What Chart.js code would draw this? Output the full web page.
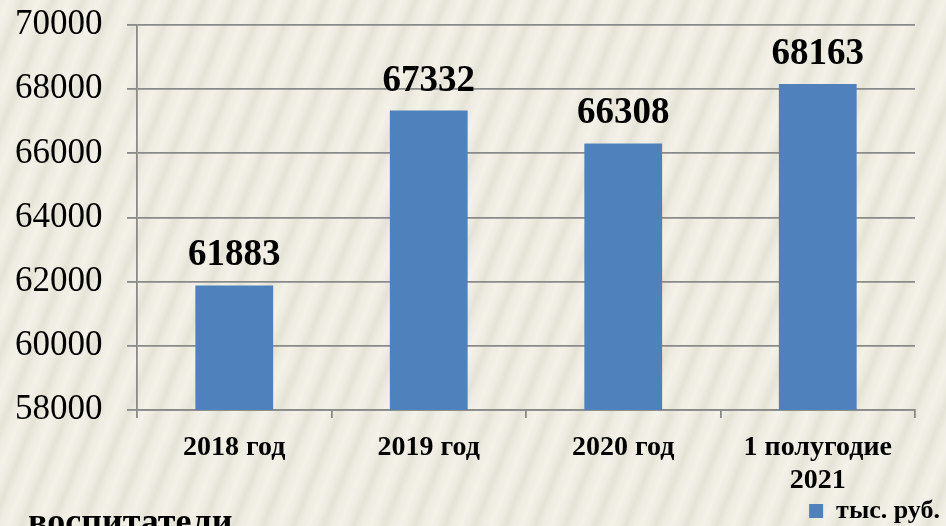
<!DOCTYPE html>
<html>
<head>
<meta charset="utf-8">
<script src="https://cdn.jsdelivr.net/npm/chart.js@4/dist/chart.umd.min.js"></script>
<style>
  html, body {
    margin: 0;
    padding: 0;
    width: 946px;
    height: 526px;
    overflow: hidden;
  }
  body {
    position: relative;
    background-color: #efede2;
    background-image: repeating-linear-gradient(112deg,
      #efede2 0px, #f3f1e8 8px, #efede2 14px, #e5e2d6 21px, #efede2 28px);
  }
  .wrap {
    position: absolute;
    left: 0;
    top: 0;
    width: 946px;
    height: 526px;
  }
  .cut-text {
    position: absolute;
    left: 28px;
    top: 503px;
    font: bold 36px "Liberation Serif", "Times New Roman", serif;
    line-height: 36px;
    color: #000;
  }
</style>
</head>
<body>
<div class="wrap"><canvas id="myChart" width="946" height="526"></canvas></div>
<div class="cut-text">воспитатели</div>
<script>
const categories = ["2018 год", "2019 год", "2020 год", ["1 полугодие", "2021"]];
const values = [61883, 67332, 66308, 68163];
const seriesName = "тыс. руб.";
const yTicks = [58000, 60000, 62000, 64000, 66000, 68000, 70000];

const serif = '"Liberation Serif", "Times New Roman", serif';
const gridColor = "#8a8a8a";

// draws the value above each bar
const valueLabels = {
  id: "valueLabels",
  afterDatasetsDraw(chart) {
    const ctx = chart.ctx;
    const meta = chart.getDatasetMeta(0);
    ctx.save();
    ctx.font = "bold 37px " + serif;
    ctx.fillStyle = "#000";
    ctx.textAlign = "center";
    ctx.textBaseline = "alphabetic";
    meta.data.forEach((bar, i) => {
      ctx.fillText(String(values[i]), bar.x, bar.y - 20);
    });
    ctx.restore();
  },
};

// legend sits further right and lower than the plot area
const legendShift = {
  id: "legendShift",
  afterLayout(chart) {
    if (chart.legend) {
      chart.legend.left += 27;
      chart.legend.right += 27;
      chart.legend.top += 8;
      chart.legend.bottom += 8;
    }
  },
};

const ctx = document.getElementById("myChart").getContext("2d");

new Chart(ctx, {
  type: "bar",
  data: {
    labels: categories,
    datasets: [
      {
        label: seriesName,
        data: values,
        backgroundColor: "#4f81bd",
        borderWidth: 0,
        barPercentage: 0.4,
        categoryPercentage: 1,
      },
    ],
  },
  options: {
    responsive: false,
    animation: false,
    devicePixelRatio: 1,
    layout: {
      padding: { top: 2, right: 31, bottom: 0, left: 15 },
    },
    plugins: {
      tooltip: { enabled: false },
      legend: {
        position: "bottom",
        align: "end",
        labels: {
          boxWidth: 14,
          boxHeight: 14,
          padding: 2,
          color: "#000",
          font: { family: serif, size: 26, weight: "bold" },
        },
      },
    },
    scales: {
      x: {
        offset: true,
        grid: {
          offset: true,
          drawOnChartArea: false,
          drawTicks: true,
          tickLength: 8,
          color: gridColor,
          lineWidth: 1.8,
        },
        border: { color: gridColor, width: 1.8 },
        ticks: {
          color: "#000",
          padding: 14,
          maxRotation: 0,
          font: { family: serif, size: 28, weight: "bold", lineHeight: 1.15 },
        },
        afterFit(scale) {
          scale.height = 78;
        },
      },
      y: {
        min: yTicks[0],
        max: yTicks[yTicks.length - 1],
        afterBuildTicks(scale) {
          scale.ticks = yTicks.map((v) => ({ value: v }));
        },
        grid: {
          color: gridColor,
          lineWidth: 1.8,
          drawTicks: true,
          tickLength: 10,
        },
        border: { color: gridColor, width: 1.8 },
        ticks: {
          color: "#000",
          padding: 4,
          crossAlign: "far",
          font: { family: serif, size: 35 },
          callback: (v) => String(v),
        },
        afterFit(scale) {
          scale.width = 122;
        },
      },
    },
  },
  plugins: [valueLabels, legendShift],
});
</script>
</body>
</html>
